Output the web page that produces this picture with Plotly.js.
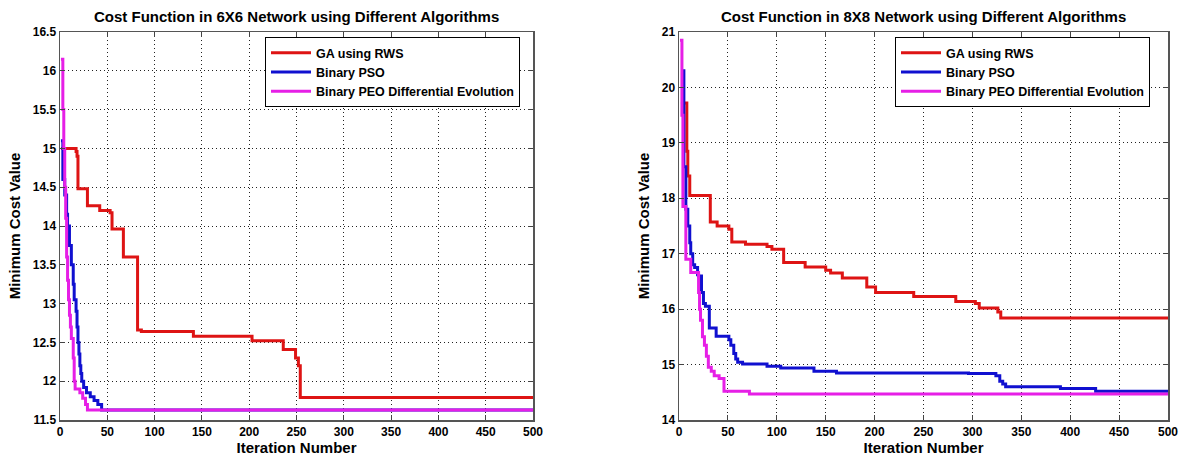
<!DOCTYPE html>
<html>
<head>
<meta charset="utf-8">
<script src="https://cdn.plot.ly/plotly-3.0.1.min.js"></script>
<style>html,body{margin:0;padding:0;background:#fff;}#chart{width:1187px;height:459px;}</style>
</head>
<body>
<div id="chart"></div>
<script>
// ---- Data ----
var seriesNames = ["GA using RWS", "Binary PSO", "Binary PEO Differential Evolution"];
var titles6 = "Cost Function in 6X6 Network using Different Algorithms";
var titles8 = "Cost Function in 8X8 Network using Different Algorithms";
var xTickVals = [0, 50, 100, 150, 200, 250, 300, 350, 400, 450, 500];
var yTickVals6 = [11.5, 12, 12.5, 13, 13.5, 14, 14.5, 15, 15.5, 16, 16.5];
var yTickVals8 = [14, 15, 16, 17, 18, 19, 20, 21];

// 6X6 network
var ga6_x = [1, 17, 18, 19, 29, 42, 53, 55, 67, 82, 86, 141, 203, 236, 249, 252, 254, 500];
var ga6_y = [15.0, 14.96, 14.9, 14.48, 14.26, 14.2, 14.17, 13.96, 13.6, 12.66, 12.64, 12.58, 12.52, 12.41, 12.3, 12.2, 11.79, 11.79];
var pso6_x = [1, 3, 5, 7, 8, 10, 12, 14, 15, 17, 18, 19, 20, 21, 22, 23, 25, 28, 32, 36, 40, 44, 500];
var pso6_y = [15.1, 14.6, 14.4, 14.15, 14.0, 13.75, 13.5, 13.25, 13.05, 12.9, 12.7, 12.5, 12.35, 12.2, 12.1, 12.0, 11.92, 11.85, 11.8, 11.75, 11.7, 11.63, 11.63];
var peo6_x = [1, 3, 4, 5, 6, 7, 8, 9, 10, 11, 12, 14, 15, 16, 21, 24, 27, 29, 500];
var peo6_y = [16.15, 15.5, 15.0, 14.5, 14.1, 13.6, 13.3, 13.05, 12.85, 12.7, 12.55, 12.3, 12.0, 11.9, 11.85, 11.78, 11.7, 11.63, 11.63];

// 8X8 network
var ga8_x = [2, 8, 9, 11, 32, 39, 51, 54, 68, 90, 95, 107, 129, 150, 155, 167, 192, 201, 240, 283, 303, 307, 326, 329, 500];
var ga8_y = [19.72, 18.85, 18.4, 18.05, 17.57, 17.5, 17.44, 17.21, 17.17, 17.13, 17.08, 16.84, 16.76, 16.7, 16.65, 16.56, 16.4, 16.3, 16.23, 16.14, 16.1, 16.02, 15.95, 15.84, 15.84];
var pso8_x = [3, 5, 7, 9, 11, 12, 14, 16, 19, 20, 23, 25, 27, 31, 38, 51, 53, 56, 58, 60, 65, 90, 104, 138, 161, 296, 324, 328, 331, 334, 390, 426, 500];
var pso8_y = [20.3, 18.57, 17.8, 17.5, 17.2, 17.0, 16.8, 16.75, 16.62, 16.6, 16.3, 16.1, 16.05, 15.66, 15.51, 15.45, 15.35, 15.2, 15.1, 15.04, 15.01, 14.97, 14.94, 14.88, 14.85, 14.84, 14.8, 14.7, 14.65, 14.6, 14.57, 14.52, 14.52];
var peo8_x = [1, 3, 4, 7, 12, 20, 21, 22, 24, 26, 28, 30, 33, 36, 41, 46, 72, 500];
var peo8_y = [20.85, 19.5, 17.85, 16.9, 16.66, 16.3, 16.0, 15.8, 15.5, 15.35, 15.15, 14.95, 14.88, 14.8, 14.75, 14.52, 14.47, 14.47];

// ---- Styles ----
var colors = ["#de1414", "#1010d0", "#e61fe6"];
var FONT = "Liberation Sans, Arial, sans-serif";

function tr(x, y, i, xa, ya, lg) {
  return {
    x: x, y: y, type: "scatter", mode: "lines", name: seriesNames[i],
    line: {color: colors[i], width: 3, shape: "hv"},
    xaxis: xa, yaxis: ya, legend: lg, hoverinfo: "skip"
  };
}

var data = [
  tr(ga6_x, ga6_y, 0, "x", "y", "legend"),
  tr(pso6_x, pso6_y, 1, "x", "y", "legend"),
  tr(peo6_x, peo6_y, 2, "x", "y", "legend"),
  tr(ga8_x, ga8_y, 0, "x2", "y2", "legend2"),
  tr(pso8_x, pso8_y, 1, "x2", "y2", "legend2"),
  tr(peo8_x, peo8_y, 2, "x2", "y2", "legend2")
];

function xAxis(dom, anchor) {
  return {
    domain: dom, anchor: anchor, range: [0, 500], autorange: false,
    tickvals: xTickVals, ticks: "inside", ticklen: 5, tickcolor: "#444",
    showline: true, linecolor: "#555", linewidth: 1.5, mirror: "ticks",
    showgrid: true, gridcolor: "#222", gridwidth: 1, griddash: "1px,3px",
    zeroline: false, automargin: false,
    tickfont: {family: FONT, size: 12, color: "#000", weight: "bold"},
    title: {text: "Iteration Number", standoff: 2,
            font: {family: FONT, size: 15, color: "#000", weight: "bold"}}
  };
}
function yAxis(dom, anchor, range, tv) {
  return {
    domain: dom, anchor: anchor, range: range, autorange: false,
    tickvals: tv, ticks: "inside", ticklen: 5, tickcolor: "#444",
    showline: true, linecolor: "#555", linewidth: 1.5, mirror: "ticks",
    showgrid: true, gridcolor: "#222", gridwidth: 1, griddash: "1px,3px",
    zeroline: false, automargin: false,
    tickfont: {family: FONT, size: 12, color: "#000", weight: "bold"},
    title: {text: "Minimum Cost Value", standoff: 8,
            font: {family: FONT, size: 15, color: "#000", weight: "bold"}}
  };
}

var yDom = [1 - 420/459, 1 - 32/459];
var legendStyle = function(x) {
  return {
    x: x, y: 1 - 37/459, xref: "paper", yref: "paper", xanchor: "left", yanchor: "top",
    bgcolor: "#fff", bordercolor: "#000", borderwidth: 1,
    font: {family: FONT, size: 12.5, color: "#000", weight: "bold"},
    itemwidth: 40, tracegroupgap: 0
  };
};

var layout = {
  width: 1187, height: 459,
  margin: {l: 0, r: 0, t: 0, b: 0},
  paper_bgcolor: "#fff", plot_bgcolor: "#fff",
  showlegend: true,
  xaxis: xAxis([60/1187, 533/1187], "y"),
  yaxis: yAxis(yDom, "x", [11.5, 16.5], yTickVals6),
  xaxis2: xAxis([679/1187, 1168/1187], "y2"),
  yaxis2: yAxis(yDom, "x2", [14, 21], yTickVals8),
  legend: legendStyle(265/1187),
  legend2: legendStyle(895/1187),
  annotations: [
    {text: titles6, x: (60+533)/2/1187, y: 1 - 16/459, xref: "paper", yref: "paper",
     showarrow: false, xanchor: "center", yanchor: "middle",
     font: {family: FONT, size: 15, color: "#000", weight: "bold"}},
    {text: titles8, x: (679+1168)/2/1187, y: 1 - 16/459, xref: "paper", yref: "paper",
     showarrow: false, xanchor: "center", yanchor: "middle",
     font: {family: FONT, size: 15, color: "#000", weight: "bold"}}
  ]
};

Plotly.newPlot("chart", data, layout, {staticPlot: true, displayModeBar: false});
</script>
</body>
</html>
